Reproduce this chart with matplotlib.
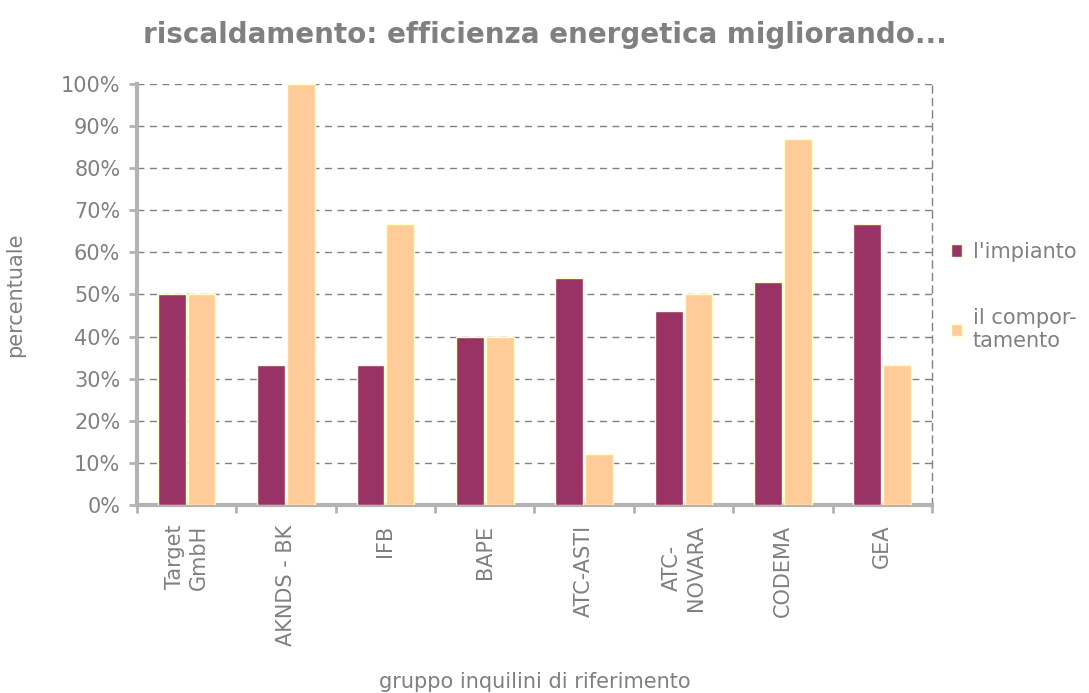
import numpy as np
import matplotlib.pyplot as plt
from matplotlib.ticker import FuncFormatter

# Dati
categorie = ['Target\nGmbH', 'AKNDS - BK', 'IFB', 'BAPE', 'ATC-ASTI',
             'ATC-\nNOVARA', 'CODEMA', 'GEA']
impianto = [0.50, 0.333, 0.333, 0.40, 0.54, 0.46, 0.53, 0.667]
comportamento = [0.50, 1.00, 0.667, 0.40, 0.12, 0.50, 0.87, 0.333]

viola = '#993366'
pesca = '#FFCC99'
bordo = '#FFFFCC'
grigio = '#808080'
asse = '#B3B3B3'

plt.rcParams['font.family'] = 'DejaVu Sans'

fig = plt.figure(figsize=(10.89, 6.93), dpi=100)
ax = fig.add_axes([0.1258, 0.2713, 0.73, 0.6075])

x = np.arange(len(categorie))
w = 0.28
ax.bar(x - w / 2 - 0.01, impianto, w, color=viola, edgecolor=bordo, linewidth=1,
       label="l'impianto", zorder=3)
ax.bar(x + w / 2 + 0.01, comportamento, w, color=pesca, edgecolor=bordo, linewidth=1,
       label='il compor-\ntamento', zorder=3)

ax.set_xlim(-0.5, len(categorie) - 0.5)
ax.set_ylim(0, 1)
ax.set_yticks(np.arange(0, 1.01, 0.1))
ax.yaxis.set_major_formatter(FuncFormatter(lambda v, p: f'{v * 100:.0f}%'))
ax.yaxis.grid(True, linestyle=(0, (5, 4)), color='#808080', linewidth=1, zorder=0)

ax.set_xticks(x)
ax.set_xticklabels(categorie, rotation=90, ha='center', va='top',
                   fontsize=15, color=grigio, linespacing=1.25)
ax.set_xticks(np.arange(-0.5, len(categorie), 1), minor=True)
ax.tick_params(axis='x', which='major', length=0, pad=14)
ax.tick_params(axis='x', which='minor', length=6, width=2, color=asse, direction='out')
ax.tick_params(axis='y', length=6, width=2, color=asse, labelsize=15,
               labelcolor=grigio, pad=6)

for lato in ['left', 'bottom']:
    ax.spines[lato].set_color(asse)
    ax.spines[lato].set_linewidth(3)
ax.spines['top'].set_visible(False)
ax.spines['right'].set_color('#808080')
ax.spines['right'].set_linestyle((0, (5, 4)))
ax.spines['right'].set_linewidth(1)

ax.set_ylabel('percentuale', fontsize=15, color=grigio, labelpad=26)
ax.set_xlabel('gruppo inquilini di riferimento', fontsize=15, color=grigio,
              labelpad=19)
fig.suptitle('riscaldamento: efficienza energetica migliorando...', x=0.5, y=0.97,
             fontsize=20, fontweight='bold', color=grigio)

leg = ax.legend(loc='center left', bbox_to_anchor=(1.0, 0.495), frameon=False,
                fontsize=15, labelcolor=grigio, handlelength=0.55, handleheight=0.55,
                handletextpad=0.5, labelspacing=2.2)

fig.savefig('out.png', dpi=100)
